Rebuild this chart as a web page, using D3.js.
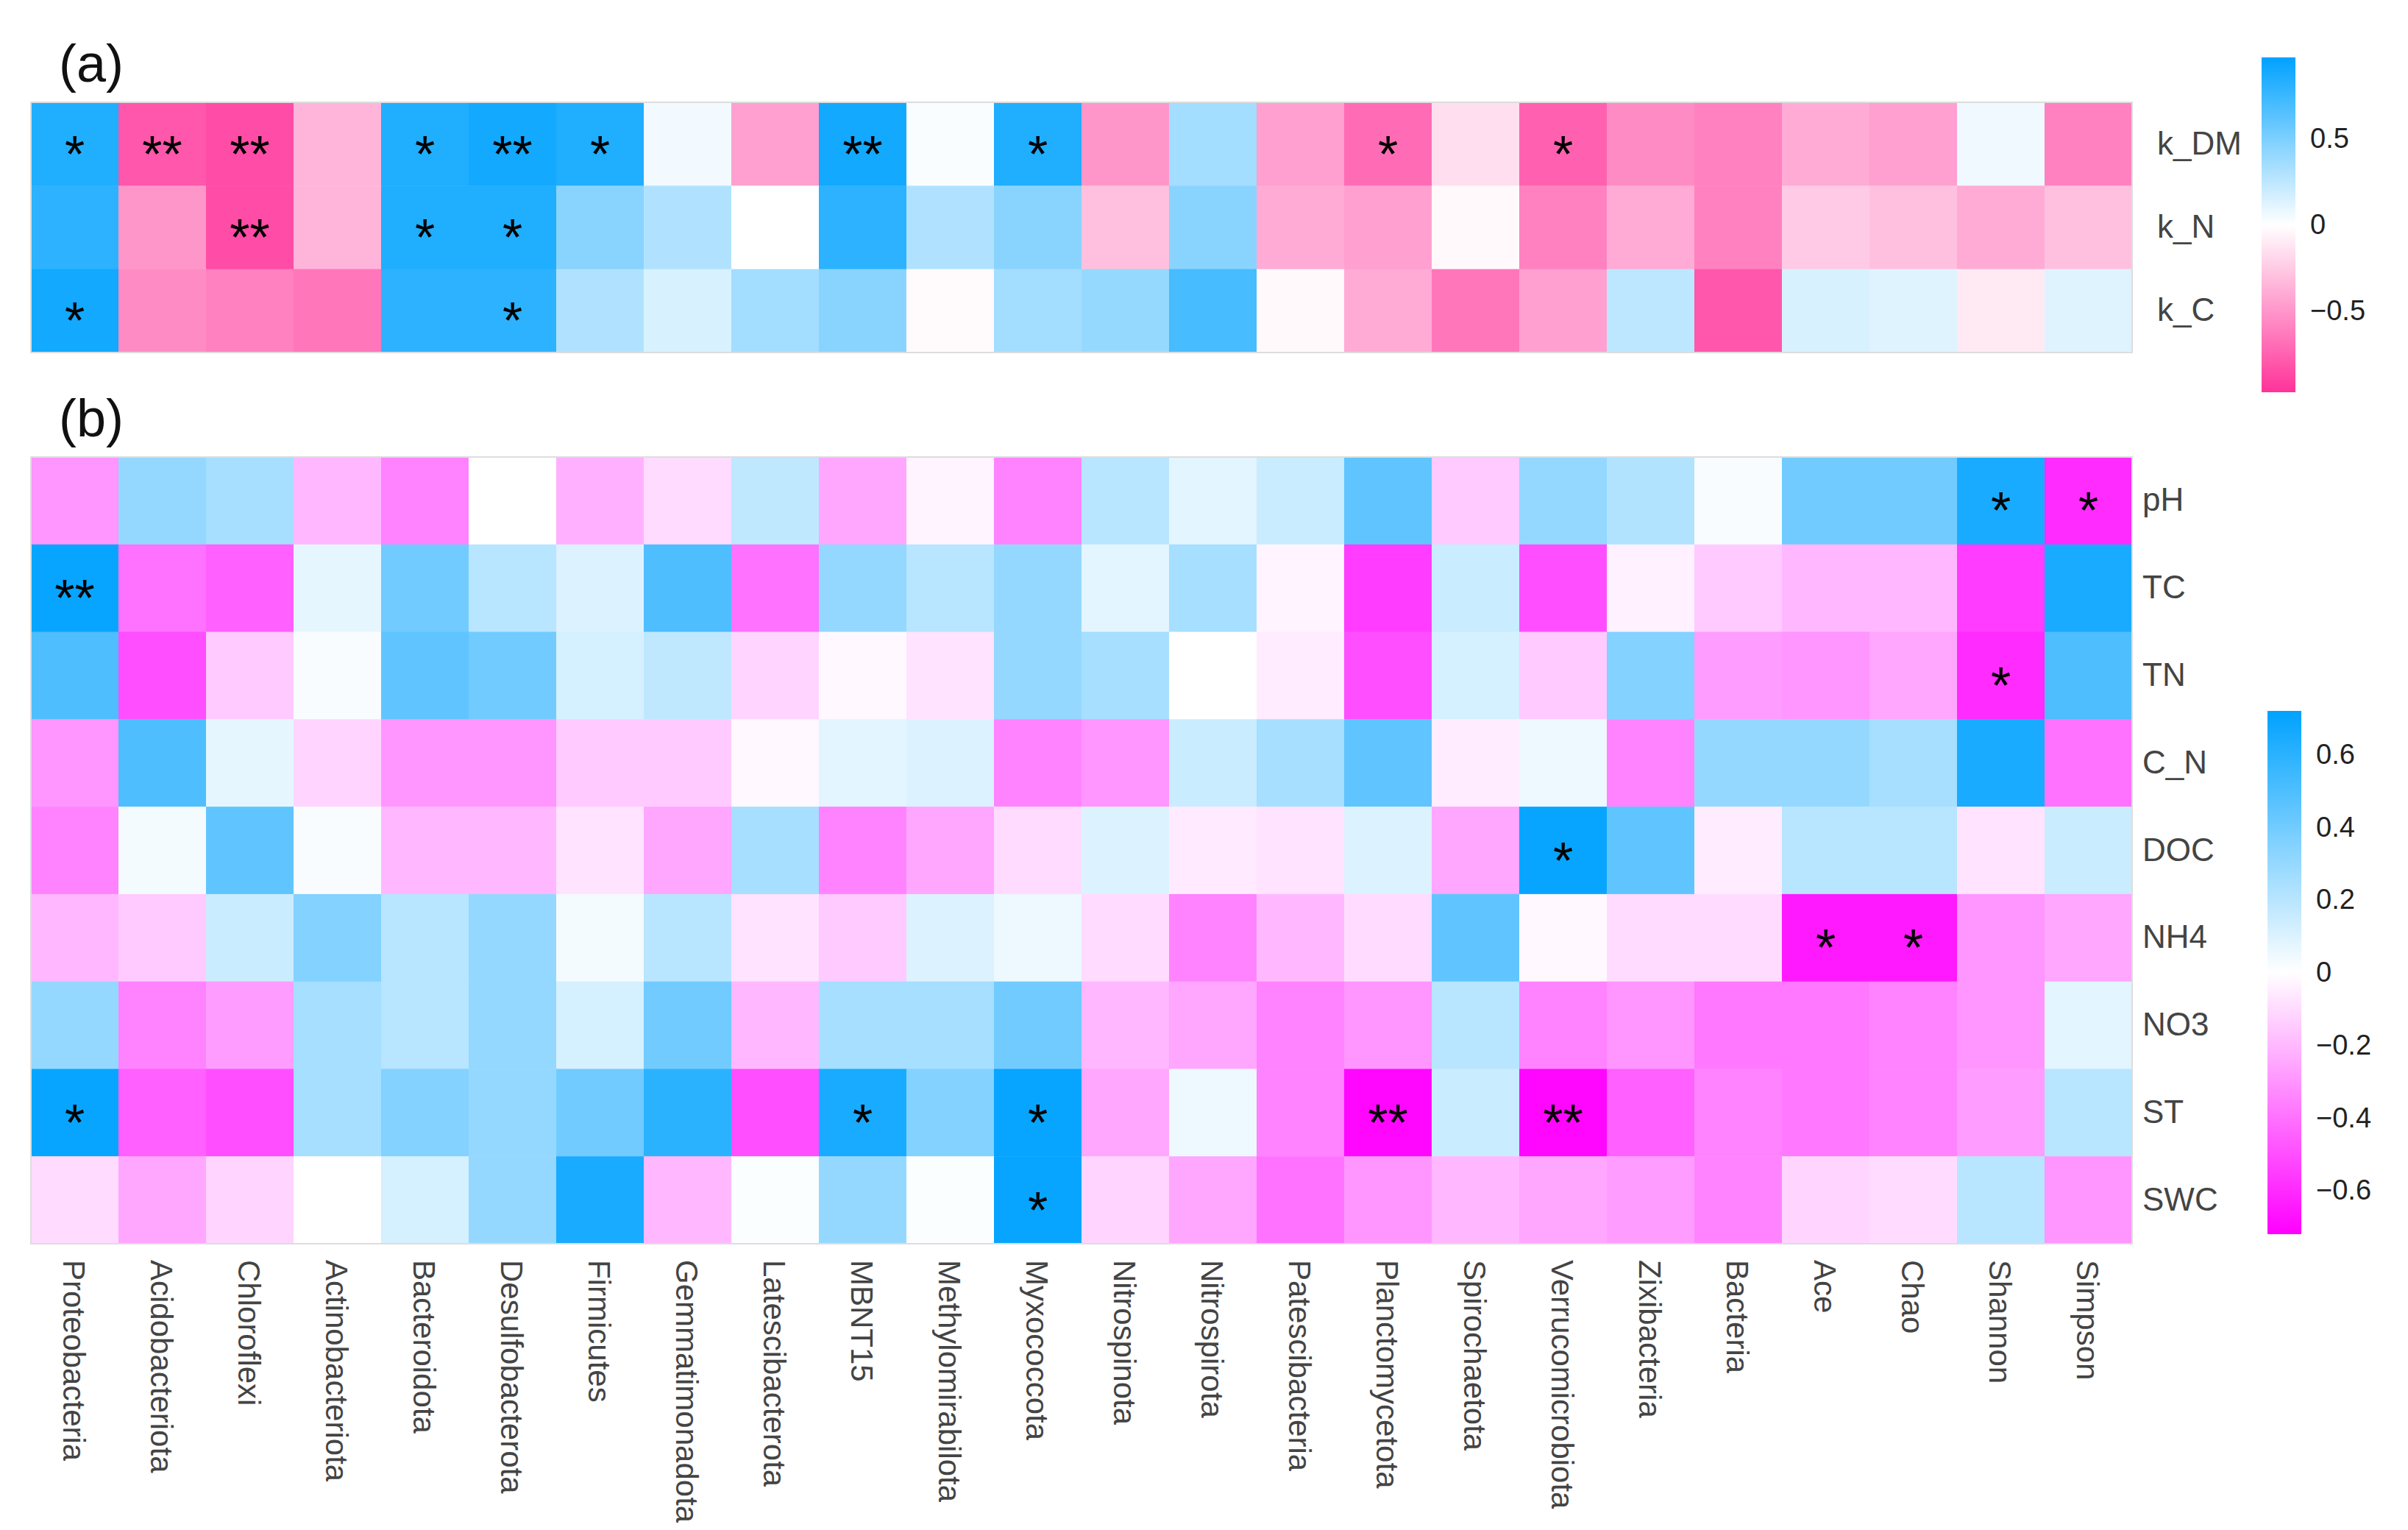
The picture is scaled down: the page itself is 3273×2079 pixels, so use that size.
<!DOCTYPE html>
<html><head><meta charset="utf-8">
<script src="https://cdn.jsdelivr.net/npm/d3@7"></script>
<style>body{margin:0;background:#fff}text{font-family:"Liberation Sans",Arial,sans-serif}</style>
</head><body>
<script>
var taxa = ["Proteobacteria","Acidobacteriota","Chloroflexi","Actinobacteriota","Bacteroidota","Desulfobacterota","Firmicutes","Gemmatimonadota","Latescibacterota","MBNT15","Methylomirabilota","Myxococcota","Nitrospinota","Nitrospirota","Patescibacteria","Planctomycetota","Spirochaetota","Verrucomicrobiota","Zixibacteria","Bacteria","Ace","Chao","Shannon","Simpson"];

var rowsA = ["k_DM","k_N","k_C"];
var valsA = [
  [0.85,-0.8,-0.85,-0.35,0.85,0.9,0.85,0.05,-0.45,0.9,0.02,0.85,-0.5,0.35,-0.45,-0.7,-0.15,-0.75,-0.55,-0.6,-0.4,-0.45,0.06,-0.6],
  [0.8,-0.5,-0.85,-0.35,0.85,0.85,0.45,0.3,0.0,0.8,0.3,0.45,-0.3,0.45,-0.4,-0.45,-0.03,-0.6,-0.4,-0.6,-0.25,-0.3,-0.4,-0.3],
  [0.9,-0.55,-0.6,-0.65,0.8,0.8,0.3,0.15,0.35,0.45,-0.02,0.35,0.4,0.7,-0.03,-0.4,-0.65,-0.45,0.25,-0.8,0.15,0.12,-0.1,0.12]
];
var sigA = [
  ["*","**","**","","*","**","*","","","**","","*","","","","*","","*","","","","","",""],
  ["","","**","","*","*","","","","","","","","","","","","","","","","","",""],
  ["*","","","","","*","","","","","","","","","","","","","","","","","",""]
];

var rowsB = ["pH","TC","TN","C_N","DOC","NH4","NO3","ST","SWC"];
var valsB = [
  [-0.3,0.3,0.25,-0.2,-0.35,0.0,-0.22,-0.1,0.18,-0.25,-0.03,-0.35,0.2,0.08,0.15,0.45,-0.15,0.3,0.22,0.02,0.4,0.4,0.65,-0.6],
  [0.7,-0.4,-0.45,0.07,0.4,0.2,0.1,0.5,-0.4,0.3,0.2,0.3,0.08,0.25,-0.03,-0.55,0.15,-0.5,-0.04,-0.15,-0.2,-0.2,-0.55,0.65],
  [0.5,-0.5,-0.15,0.02,0.45,0.4,0.12,0.18,-0.12,-0.02,-0.08,0.3,0.25,0.0,-0.05,-0.5,0.12,-0.15,0.35,-0.28,-0.3,-0.25,-0.6,0.5],
  [-0.3,0.5,0.07,-0.12,-0.3,-0.3,-0.15,-0.15,-0.02,0.08,0.1,-0.35,-0.3,0.15,0.25,0.45,-0.05,0.05,-0.35,0.3,0.3,0.25,0.65,-0.4],
  [-0.35,0.03,0.45,0.02,-0.2,-0.2,-0.08,-0.25,0.25,-0.35,-0.25,-0.1,0.1,-0.06,-0.08,0.1,-0.25,0.7,0.45,-0.05,0.2,0.2,-0.08,0.15],
  [-0.2,-0.15,0.15,0.35,0.2,0.3,0.03,0.2,-0.08,-0.15,0.1,0.05,-0.1,-0.35,-0.2,-0.1,0.45,-0.02,-0.1,-0.1,-0.65,-0.65,-0.3,-0.25],
  [0.3,-0.35,-0.28,0.25,0.2,0.3,0.12,0.4,-0.2,0.25,0.25,0.4,-0.2,-0.25,-0.35,-0.3,0.2,-0.35,-0.3,-0.38,-0.38,-0.35,-0.3,0.08],
  [0.7,-0.45,-0.5,0.25,0.35,0.3,0.4,0.6,-0.5,0.65,0.35,0.7,-0.25,0.05,-0.35,-0.7,0.15,-0.7,-0.45,-0.35,-0.38,-0.35,-0.28,0.2],
  [-0.1,-0.25,-0.12,0.0,0.12,0.3,0.65,-0.2,0.01,0.3,0.01,0.7,-0.12,-0.25,-0.4,-0.3,-0.2,-0.25,-0.28,-0.35,-0.12,-0.1,0.2,-0.3]
];
var sigB = [
  ["","","","","","","","","","","","","","","","","","","","","","","*","*"],
  ["**","","","","","","","","","","","","","","","","","","","","","","",""],
  ["","","","","","","","","","","","","","","","","","","","","","","*",""],
  ["","","","","","","","","","","","","","","","","","","","","","","",""],
  ["","","","","","","","","","","","","","","","","","*","","","","","",""],
  ["","","","","","","","","","","","","","","","","","","","","*","*","",""],
  ["","","","","","","","","","","","","","","","","","","","","","","",""],
  ["*","","","","","","","","","*","","*","","","","**","","**","","","","","",""],
  ["","","","","","","","","","","","*","","","","","","","","","","","",""]
];
var ticksA = [0.5, 0, -0.5];
var ticksB = [0.6, 0.4, 0.2, 0, -0.2, -0.4, -0.6];

var W = 3273, H = 2079;
var svg = d3.select("body").append("svg").attr("width", W).attr("height", H);

function heat(cfg) {
  var x = d3.scaleBand().domain(taxa).range([42, 2898]);
  var y = d3.scaleBand().domain(cfg.rows).range([cfg.top, cfg.bottom]);
  var col = d3.scaleLinear().domain([-cfg.max, 0, cfg.max]).range([cfg.neg, "#ffffff", "#00a2ff"]).clamp(true);
  var cells = [];
  cfg.vals.forEach(function(r, i) { r.forEach(function(v, j) { cells.push({r: cfg.rows[i], c: taxa[j], v: v, s: cfg.sig[i][j]}); }); });
  var g = svg.append("g");
  g.selectAll("rect").data(cells).enter().append("rect")
    .attr("x", function(d) { return x(d.c); }).attr("y", function(d) { return y(d.r); })
    .attr("width", x.bandwidth() + 0.5).attr("height", y.bandwidth() + 0.5)
    .attr("fill", function(d) { return col(d.v); });
  g.append("rect").attr("x", 42).attr("y", cfg.top).attr("width", 2856).attr("height", cfg.bottom - cfg.top)
    .attr("fill", "none").attr("stroke", "#ddd").attr("stroke-width", 2);
  g.selectAll("text.sig").data(cells.filter(function(d) { return d.s; })).enter().append("text")
    .attr("x", function(d) { return x(d.c) + x.bandwidth() / 2; })
    .attr("y", function(d) { return y(d.r) + y.bandwidth() / 2 + 38; })
    .attr("text-anchor", "middle").attr("font-size", 70).attr("fill", "#000").text(function(d) { return d.s; });
  var ax = d3.axisRight(y).tickSize(0).tickPadding(0);
  var ga = svg.append("g").attr("transform", "translate(" + cfg.labX + ",0)").call(ax);
  ga.select(".domain").remove();
  ga.selectAll("text").attr("font-size", cfg.fs).attr("fill", "#444");
  // colour bar
  var cy = d3.scaleLinear().domain([cfg.max, -cfg.max]).range([cfg.cbTop, cfg.cbBot]);
  var id = "grad" + cfg.rows.length;
  var grad = svg.append("defs").append("linearGradient").attr("id", id).attr("x1", 0).attr("x2", 0).attr("y1", 0).attr("y2", 1);
  d3.range(0, 1.001, 0.05).forEach(function(t) {
    grad.append("stop").attr("offset", t).attr("stop-color", col(cfg.max - t * 2 * cfg.max));
  });
  svg.append("rect").attr("x", cfg.cbX).attr("y", cfg.cbTop).attr("width", 46).attr("height", cfg.cbBot - cfg.cbTop).attr("fill", "url(#" + id + ")");
  var gc = svg.append("g").attr("transform", "translate(" + (cfg.cbX + 66) + ",0)")
    .call(d3.axisRight(cy).tickValues(cfg.ticks).tickSize(0).tickPadding(0).tickFormat(function(d) { return d === 0 ? "0" : d3.format("")(d).replace("-", "\u2212"); }));
  gc.select(".domain").remove();
  gc.selectAll("text").attr("font-size", 38).attr("fill", "#222");
  svg.append("text").attr("x", 80).attr("y", cfg.top - 28).attr("font-size", 72).attr("fill", "#111").text(cfg.tag);
}

heat({rows: rowsA, vals: valsA, sig: sigA, top: 139, bottom: 479, max: 0.97, neg: "#ff3399",
  labX: 2932, fs: 44, cbX: 3074, cbTop: 78, cbBot: 533, ticks: ticksA, tag: "(a)"});
heat({rows: rowsB, vals: valsB, sig: sigB, top: 621, bottom: 1690, max: 0.72, neg: "#ff00ff",
  labX: 2912, fs: 44, cbX: 3082, cbTop: 966, cbBot: 1677, ticks: ticksB, tag: "(b)"});

var xb = d3.scaleBand().domain(taxa).range([42, 2898]);
svg.append("g").selectAll("text").data(taxa).enter().append("text")
  .attr("transform", function(d) { return "translate(" + (xb(d) + xb.bandwidth() / 2 - 16) + ",1712) rotate(90)"; })
  .attr("font-size", 42).attr("fill", "#444").text(function(d) { return d; });
</script>
</body></html>
